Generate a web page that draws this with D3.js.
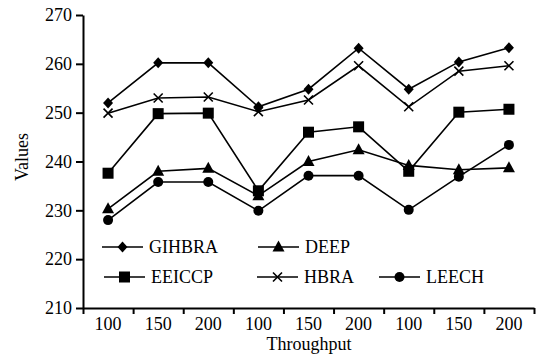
<html>
    <head>
        <style>
            body { margin: 0; background: white; }
        </style>
    </head>
    <body>

        <svg id="content"></svg>

        <script src="https://cdn.jsdelivr.net/npm/d3@7"></script>
        <script>

            let xLabels = ["100", "150", "200", "100", "150", "200", "100", "150", "200"];
            let yTicks = [210, 220, 230, 240, 250, 260, 270];

            let gihbra = [252.0, 260.2, 260.2, 251.2, 254.8, 263.2, 254.8, 260.4, 263.3];
            let hbra   = [249.9, 253.0, 253.2, 250.2, 252.6, 259.6, 251.2, 258.5, 259.6];
            let eeiccp = [237.6, 249.8, 249.9, 234.0, 246.0, 247.1, 238.0, 250.1, 250.7];
            let deep   = [230.3, 238.0, 238.6, 233.0, 240.0, 242.4, 239.2, 238.3, 238.7];
            let leech  = [228.0, 235.8, 235.8, 229.9, 237.1, 237.1, 230.1, 236.9, 243.4];

            let series = [
                {name: "GIHBRA", values: gihbra, marker: "diamond"},
                {name: "DEEP", values: deep, marker: "triangle"},
                {name: "EEICCP", values: eeiccp, marker: "square"},
                {name: "HBRA", values: hbra, marker: "cross"},
                {name: "LEECH", values: leech, marker: "circle"}
            ];

            let bodyWidth = 536;
            let bodyHeight = 358;
            let font = "'Liberation Serif', 'Times New Roman', Times, serif";

            let svg = d3.select("#content")
                        .attr("width", bodyWidth)
                        .attr("height", bodyHeight)
                        .style("font-family", font);

            let plotLeft = 83, plotRight = 534, plotTop = 15, plotBottom = 308;

            let x = d3.scaleLinear().domain([0, 9]).range([plotLeft, plotRight]);
            let y = d3.scaleLinear().domain([210, 270]).range([plotBottom, plotTop]);

            // axes
            let yAxis = svg.append("g")
                .attr("transform", `translate(${plotLeft},0)`)
                .call(d3.axisLeft(y).tickValues(yTicks).tickSize(7).tickPadding(4).tickSizeOuter(0));
            yAxis.attr("font-family", null).attr("font-size", null);
            yAxis.selectAll("text").attr("fill", "#000")
                .style("font-family", font).style("font-size", "18px");
            yAxis.selectAll("line,path").attr("stroke", "#000").attr("stroke-width", 2);

            let xAxis = svg.append("g")
                .attr("transform", `translate(0,${plotBottom})`)
                .call(d3.axisBottom(x).tickValues(d3.range(10)).tickFormat("").tickSize(6).tickSizeOuter(0));
            xAxis.selectAll("line,path").attr("stroke", "#000").attr("stroke-width", 2);

            svg.append("g").selectAll("text")
                .data(xLabels)
                .enter()
                .append("text")
                .attr("x", (d, i) => x(i + 0.5))
                .attr("y", 330)
                .attr("text-anchor", "middle")
                .style("font-family", font)
                .style("font-size", "18px")
                .text(d => d);

            svg.append("text")
                .attr("x", 309)
                .attr("y", 350)
                .attr("text-anchor", "middle")
                .style("font-family", font)
                .style("font-size", "18px")
                .text("Throughput");

            svg.append("text")
                .attr("transform", "translate(28,157) rotate(-90)")
                .attr("text-anchor", "middle")
                .style("font-family", font)
                .style("font-size", "18px")
                .text("Values");

            function drawMarker(g, type, cx, cy) {
                if (type === "diamond") {
                    g.append("path").attr("d", `M${cx},${cy - 5.5}L${cx + 5},${cy}L${cx},${cy + 5.5}L${cx - 5},${cy}Z`).attr("fill", "#000");
                } else if (type === "square") {
                    g.append("rect").attr("x", cx - 5.5).attr("y", cy - 5.5).attr("width", 11).attr("height", 11).attr("fill", "#000");
                } else if (type === "triangle") {
                    g.append("path").attr("d", `M${cx},${cy - 6.5}L${cx + 6},${cy + 4.5}L${cx - 6},${cy + 4.5}Z`).attr("fill", "#000");
                } else if (type === "circle") {
                    g.append("circle").attr("cx", cx).attr("cy", cy).attr("r", 5).attr("fill", "#000");
                } else if (type === "cross") {
                    g.append("path").attr("d", `M${cx - 4.5},${cy - 4.5}L${cx + 4.5},${cy + 4.5}M${cx - 4.5},${cy + 4.5}L${cx + 4.5},${cy - 4.5}`)
                        .attr("stroke", "#000").attr("stroke-width", 1.6);
                }
            }

            let line = d3.line()
                .x((d, i) => x(i + 0.5))
                .y(d => y(d));

            series.forEach(s => {
                let g = svg.append("g");
                g.append("path")
                    .attr("d", line(s.values))
                    .attr("fill", "none")
                    .attr("stroke", "#000")
                    .attr("stroke-width", 1.6);
                s.values.forEach((v, i) => drawMarker(g, s.marker, x(i + 0.5), y(v)));
            });

            // legend
            let legendPos = [
                {name: "GIHBRA", x: 102, y: 247},
                {name: "DEEP", x: 258, y: 247},
                {name: "EEICCP", x: 104, y: 277},
                {name: "HBRA", x: 257, y: 277},
                {name: "LEECH", x: 379, y: 277}
            ];

            let legend = svg.append("g");
            legendPos.forEach(p => {
                let s = series.find(d => d.name === p.name);
                let g = legend.append("g");
                g.append("line")
                    .attr("x1", p.x).attr("x2", p.x + 41)
                    .attr("y1", p.y).attr("y2", p.y)
                    .attr("stroke", "#000").attr("stroke-width", 1.6);
                drawMarker(g, s.marker, p.x + 20.5, p.y);
                g.append("text")
                    .attr("x", p.x + 47)
                    .attr("y", p.y + 6)
                    .style("font-family", font)
                    .style("font-size", "18px")
                    .text(p.name);
            });

        </script>
    </body>
</html>
